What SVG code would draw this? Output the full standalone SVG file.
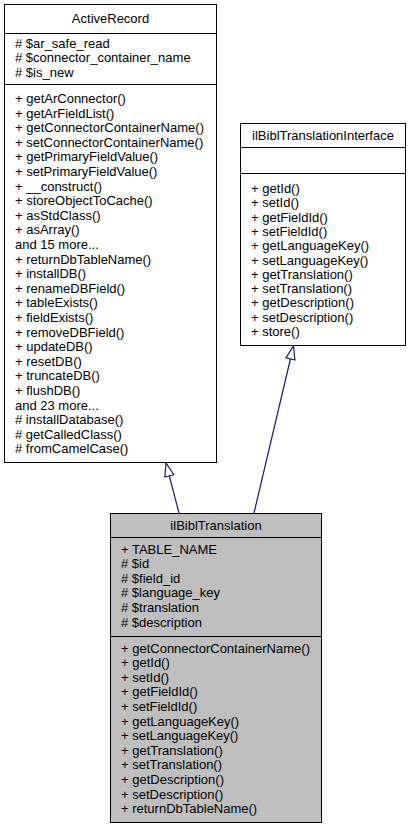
<svg xmlns="http://www.w3.org/2000/svg" width="411" height="829" viewBox="0 0 411 829">
<style>
text{font-family:"Liberation Sans",Arial,Helvetica,sans-serif;font-size:13px;fill:#000}
.t{text-anchor:middle}
.box{fill:#fff;stroke:#000;stroke-width:1}
.cur{fill:#bfbfbf;stroke:#000;stroke-width:1}
.sep{stroke:#000;stroke-width:1}
.edge{fill:none;stroke:#191970;stroke-width:1.2}
</style>
<defs>
<marker id="inh" markerUnits="userSpaceOnUse" markerWidth="16" markerHeight="12" refX="13.3" refY="5" orient="auto" viewBox="-1 0 16 10">
<path d="M0,0.4 L13.3,5 L0,9.6 Z" fill="#fff" stroke="#191970" stroke-width="1.2"/>
</marker>
</defs>
<rect width="411" height="829" fill="#fff"/>
<g id="connectors">
<path class="edge" d="M179,513 L166,463" marker-end="url(#inh)"/>
<path class="edge" d="M254,513 L293.5,346" marker-end="url(#inh)"/>
</g>
<g id="ActiveRecord">
<rect class="box" x="4.5" y="4.5" width="212" height="458"/>
<text class="t" x="110.5" y="22.5">ActiveRecord</text>
<line class="sep" x1="4.5" y1="33.5" x2="216.5" y2="33.5"/>
<text x="15" y="47.5"># $ar_safe_read</text>
<text x="15" y="62.1"># $connector_container_name</text>
<text x="15" y="76.7"># $is_new</text>
<line class="sep" x1="4.5" y1="84.5" x2="216.5" y2="84.5"/>
<text x="15" y="103">+ getArConnector()</text>
<text x="15" y="117.6">+ getArFieldList()</text>
<text x="15" y="132.2">+ getConnectorContainerName()</text>
<text x="15" y="146.8">+ setConnectorContainerName()</text>
<text x="15" y="161.4">+ getPrimaryFieldValue()</text>
<text x="15" y="176">+ setPrimaryFieldValue()</text>
<text x="15" y="190.6">+ __construct()</text>
<text x="15" y="205.2">+ storeObjectToCache()</text>
<text x="15" y="219.8">+ asStdClass()</text>
<text x="15" y="234.4">+ asArray()</text>
<text x="15" y="249">and 15 more...</text>
<text x="15" y="263.6">+ returnDbTableName()</text>
<text x="15" y="278.2">+ installDB()</text>
<text x="15" y="292.8">+ renameDBField()</text>
<text x="15" y="307.4">+ tableExists()</text>
<text x="15" y="322">+ fieldExists()</text>
<text x="15" y="336.6">+ removeDBField()</text>
<text x="15" y="351.2">+ updateDB()</text>
<text x="15" y="365.8">+ resetDB()</text>
<text x="15" y="380.4">+ truncateDB()</text>
<text x="15" y="395">+ flushDB()</text>
<text x="15" y="409.6">and 23 more...</text>
<text x="15" y="424.2"># installDatabase()</text>
<text x="15" y="438.8"># getCalledClass()</text>
<text x="15" y="453.4"># fromCamelCase()</text>
</g>
<g id="ilBiblTranslationInterface">
<rect class="box" x="240.5" y="123.5" width="165" height="222"/>
<text class="t" x="323" y="139.5">ilBiblTranslationInterface</text>
<line class="sep" x1="240.5" y1="147.5" x2="405.5" y2="147.5"/>
<line class="sep" x1="240.5" y1="173.5" x2="405.5" y2="173.5"/>
<text x="251" y="193">+ getId()</text>
<text x="251" y="207.3">+ setId()</text>
<text x="251" y="221.6">+ getFieldId()</text>
<text x="251" y="235.9">+ setFieldId()</text>
<text x="251" y="250.2">+ getLanguageKey()</text>
<text x="251" y="264.5">+ setLanguageKey()</text>
<text x="251" y="278.8">+ getTranslation()</text>
<text x="251" y="293.1">+ setTranslation()</text>
<text x="251" y="307.4">+ getDescription()</text>
<text x="251" y="321.7">+ setDescription()</text>
<text x="251" y="336">+ store()</text>
</g>
<g id="ilBiblTranslation">
<rect class="cur" x="110.5" y="513.5" width="211" height="309"/>
<text class="t" x="216" y="529.5">ilBiblTranslation</text>
<line class="sep" x1="110.5" y1="537.5" x2="321.5" y2="537.5"/>
<text x="121" y="553.5">+ TABLE_NAME</text>
<text x="121" y="568.1"># $id</text>
<text x="121" y="582.7"># $field_id</text>
<text x="121" y="597.3"># $language_key</text>
<text x="121" y="611.9"># $translation</text>
<text x="121" y="626.5"># $description</text>
<line class="sep" x1="110.5" y1="636.5" x2="321.5" y2="636.5"/>
<text x="121" y="652.5">+ getConnectorContainerName()</text>
<text x="121" y="667.1">+ getId()</text>
<text x="121" y="681.7">+ setId()</text>
<text x="121" y="696.3">+ getFieldId()</text>
<text x="121" y="710.9">+ setFieldId()</text>
<text x="121" y="725.5">+ getLanguageKey()</text>
<text x="121" y="740.1">+ setLanguageKey()</text>
<text x="121" y="754.7">+ getTranslation()</text>
<text x="121" y="769.3">+ setTranslation()</text>
<text x="121" y="783.9">+ getDescription()</text>
<text x="121" y="798.5">+ setDescription()</text>
<text x="121" y="813.1">+ returnDbTableName()</text>
</g>
</svg>
